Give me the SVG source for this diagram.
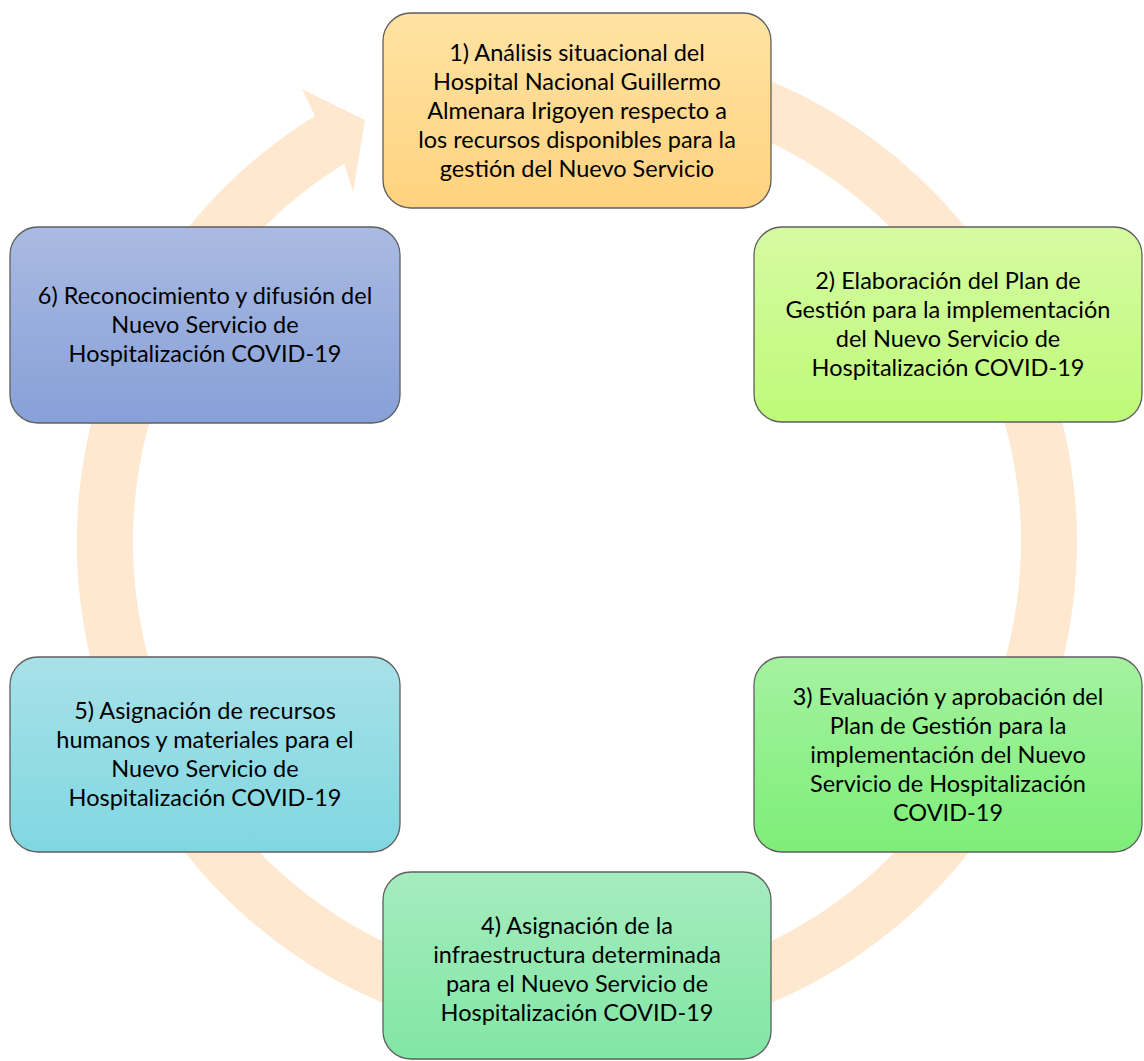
<svg xmlns="http://www.w3.org/2000/svg" width="1144" height="1061" viewBox="0 0 1144 1061">
<style>
.box{stroke:#5f5f5f;stroke-width:1.3}
.t{font-family:Lato,"Liberation Sans",sans-serif;font-size:23.5px;fill:#000;text-anchor:middle}
.ring{fill:#FEE8CF}
</style>
<defs>
<linearGradient id="g1" x1="0" y1="0" x2="0" y2="1"><stop offset="0" stop-color="#FFE3A3"/><stop offset="1" stop-color="#FFD27E"/></linearGradient>
<linearGradient id="g2" x1="0" y1="0" x2="0" y2="1"><stop offset="0" stop-color="#D6FAA2"/><stop offset="1" stop-color="#BEFA78"/></linearGradient>
<linearGradient id="g3" x1="0" y1="0" x2="0" y2="1"><stop offset="0" stop-color="#A5F2A0"/><stop offset="1" stop-color="#7DEE78"/></linearGradient>
<linearGradient id="g4" x1="0" y1="0" x2="0" y2="1"><stop offset="0" stop-color="#A5ECBE"/><stop offset="1" stop-color="#82E6A5"/></linearGradient>
<linearGradient id="g5" x1="0" y1="0" x2="0" y2="1"><stop offset="0" stop-color="#A8E1E8"/><stop offset="1" stop-color="#80D7E1"/></linearGradient>
<linearGradient id="g6" x1="0" y1="0" x2="0" y2="1"><stop offset="0" stop-color="#AABAE2"/><stop offset="1" stop-color="#87A0D8"/></linearGradient>
</defs>
<rect width="1144" height="1061" fill="#fff"/>
<g id="connectors">
<path class="ring" d="M 490.2 49.6 A 500 500 0 1 1 315.0 116.1 L 302 89 L 365 120 L 353 192 L 344.3 163.8 A 444 444 0 1 0 499.9 104.7 Z"/>
</g>
<g id="node1">
<rect class="box" x="383" y="13" width="388" height="195" rx="28" fill="url(#g1)"/>
<text class="t" x="577" y="60.5">1) Análisis situacional del</text>
<text class="t" x="577" y="89.5">Hospital Nacional Guillermo</text>
<text class="t" x="577" y="118.5">Almenara Irigoyen respecto a</text>
<text class="t" x="577" y="147.5">los recursos disponibles para la</text>
<text class="t" x="577" y="176.5">gestión del Nuevo Servicio</text>
</g>
<g id="node2">
<rect class="box" x="754" y="227" width="388" height="195" rx="28" fill="url(#g2)"/>
<text class="t" x="948" y="289">2) Elaboración del Plan de</text>
<text class="t" x="948" y="318">Gestión para la implementación</text>
<text class="t" x="948" y="347">del Nuevo Servicio de</text>
<text class="t" x="948" y="376">Hospitalización COVID-19</text>
</g>
<g id="node3">
<rect class="box" x="754" y="657" width="388" height="195" rx="28" fill="url(#g3)"/>
<text class="t" x="948" y="704.5">3) Evaluación y aprobación del</text>
<text class="t" x="948" y="733.5">Plan de Gestión para la</text>
<text class="t" x="948" y="762.5">implementación del Nuevo</text>
<text class="t" x="948" y="791.5">Servicio de Hospitalización</text>
<text class="t" x="948" y="820.5">COVID-19</text>
</g>
<g id="node4">
<rect class="box" x="383" y="872" width="388" height="187" rx="28" fill="url(#g4)"/>
<text class="t" x="577" y="934">4) Asignación de la</text>
<text class="t" x="577" y="963">infraestructura determinada</text>
<text class="t" x="577" y="992">para el Nuevo Servicio de</text>
<text class="t" x="577" y="1021">Hospitalización COVID-19</text>
</g>
<g id="node5">
<rect class="box" x="10" y="657" width="390" height="195" rx="28" fill="url(#g5)"/>
<text class="t" x="205" y="719">5) Asignación de recursos</text>
<text class="t" x="205" y="748">humanos y materiales para el</text>
<text class="t" x="205" y="777">Nuevo Servicio de</text>
<text class="t" x="205" y="806">Hospitalización COVID-19</text>
</g>
<g id="node6">
<rect class="box" x="10" y="227" width="390" height="196" rx="28" fill="url(#g6)"/>
<text class="t" x="205" y="304">6) Reconocimiento y difusión del</text>
<text class="t" x="205" y="333">Nuevo Servicio de</text>
<text class="t" x="205" y="362">Hospitalización COVID-19</text>
</g>
</svg>
